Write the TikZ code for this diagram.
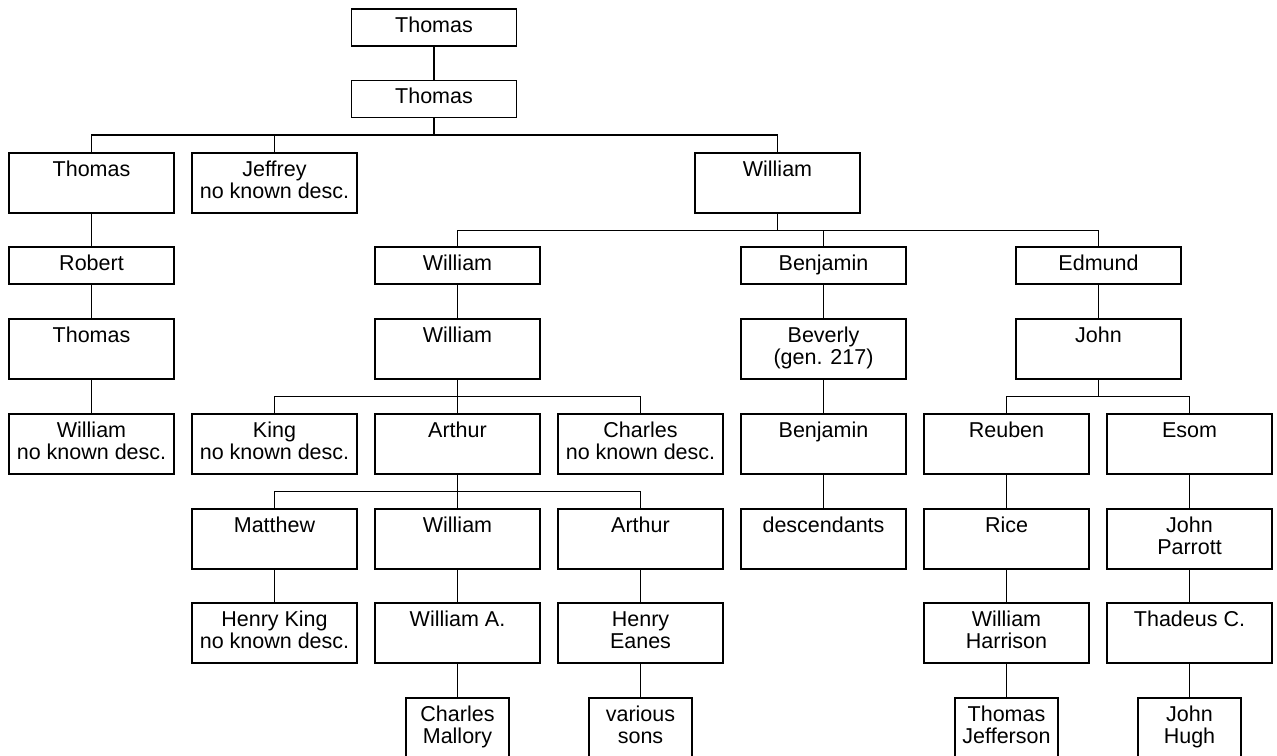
\documentclass[tikz,border=0pt]{standalone}
\usepackage{fontspec}
\setmainfont{Liberation Sans}
\newcommand{\famtxt}[3]{\parbox[c][#2pt][t]{#1pt}{\centering\fontsize{21.5}{22.5}\selectfont\rule{0pt}{23pt}#3}}
\tikzset{
  fam/.style={draw, line width=1.3pt, inner sep=0pt, outer sep=0pt, anchor=north, rectangle},
  link/.style={line width=1.3pt}
}
\begin{document}
\begin{tikzpicture}[x=1pt,y=1pt]
\clip (0,0) rectangle (1277,-755);
\fill[white] (0,0) rectangle (1277,-755);
% columns
\def\ca{91.5}\def\cb{274.5}\def\cc{457.5}\def\cd{640.5}\def\ce{823.5}\def\cf{1006.5}\def\cg{1189.5}
% rows
\node[fam] (t0) at (434,-9) {\famtxt{165}{37}{Thomas}};
\node[fam] (t1) at (434,-80.5) {\famtxt{165}{37}{Thomas}};
\node[fam] (a1) at (\ca,-153) {\famtxt{165}{60}{Thomas}};
\node[fam] (a2) at (\cb,-153) {\famtxt{165}{60}{Jeffrey\\no known desc.}};
\node[fam] (a3) at (777.5,-153) {\famtxt{165}{60}{William}};
\node[fam] (b1) at (\ca,-247) {\famtxt{165}{37}{Robert}};
\node[fam] (b2) at (\cc,-247) {\famtxt{165}{37}{William}};
\node[fam] (b3) at (\ce,-247) {\famtxt{165}{37}{Benjamin}};
\node[fam] (b4) at (1098.5,-247) {\famtxt{165}{37}{Edmund}};
\node[fam] (c1) at (\ca,-319) {\famtxt{165}{60}{Thomas}};
\node[fam] (c2) at (\cc,-319) {\famtxt{165}{60}{William}};
\node[fam] (c3) at (\ce,-319) {\famtxt{165}{60}{Beverly\\(gen. 217)}};
\node[fam] (c4) at (1098.5,-319) {\famtxt{165}{60}{John}};
\node[fam] (d1) at (\ca,-414) {\famtxt{165}{60}{William\\no known desc.}};
\node[fam] (d2) at (\cb,-414) {\famtxt{165}{60}{King\\no known desc.}};
\node[fam] (d3) at (\cc,-414) {\famtxt{165}{60}{Arthur}};
\node[fam] (d4) at (\cd,-414) {\famtxt{165}{60}{Charles\\no known desc.}};
\node[fam] (d5) at (\ce,-414) {\famtxt{165}{60}{Benjamin}};
\node[fam] (d6) at (\cf,-414) {\famtxt{165}{60}{Reuben}};
\node[fam] (d7) at (\cg,-414) {\famtxt{165}{60}{Esom}};
\node[fam] (e2) at (\cb,-509) {\famtxt{165}{60}{Matthew}};
\node[fam] (e3) at (\cc,-509) {\famtxt{165}{60}{William}};
\node[fam] (e4) at (\cd,-509) {\famtxt{165}{60}{Arthur}};
\node[fam] (e5) at (\ce,-509) {\famtxt{165}{60}{descendants}};
\node[fam] (e6) at (\cf,-509) {\famtxt{165}{60}{Rice}};
\node[fam] (e7) at (\cg,-509) {\famtxt{165}{60}{John\\Parrott}};
\node[fam] (f2) at (\cb,-603) {\famtxt{165}{60}{Henry King\\no known desc.}};
\node[fam] (f3) at (\cc,-603) {\famtxt{165}{60}{William A.}};
\node[fam] (f4) at (\cd,-603) {\famtxt{165}{60}{Henry\\Eanes}};
\node[fam] (f6) at (\cf,-603) {\famtxt{165}{60}{William\\Harrison}};
\node[fam] (f7) at (\cg,-603) {\famtxt{165}{60}{Thadeus C.}};
\node[fam] (g3) at (\cc,-698) {\famtxt{103}{60}{Charles\\Mallory}};
\node[fam] (g4) at (\cd,-698) {\famtxt{103}{60}{various\\sons}};
\node[fam] (g6) at (\cf,-698) {\famtxt{103}{60}{Thomas\\Jefferson}};
\node[fam] (g7) at (\cg,-698) {\famtxt{103}{60}{John\\Hugh}};
% straight links
\foreach \p/\c in {t0/t1, a1/b1, b1/c1, c1/d1, b2/c2, b3/c3, b4/c4, c3/d5,
  d5/e5, d6/e6, d7/e7, e2/f2, e3/f3, e4/f4, e6/f6, e7/f7, f3/g3, f4/g4, f6/g6, f7/g7}
  \draw[link] (\p.south) -- (\c.north);
% branching links
\foreach \p/\c in {t1/a1, t1/a2, t1/a3, a3/b2, a3/b3, a3/b4, c2/d2, c2/d3, c2/d4,
  c4/d6, c4/d7, d3/e2, d3/e3, d3/e4}
  \draw[link] (\p.south) -- ++(0,-17.5) -| (\c.north);
\end{tikzpicture}
\end{document}
